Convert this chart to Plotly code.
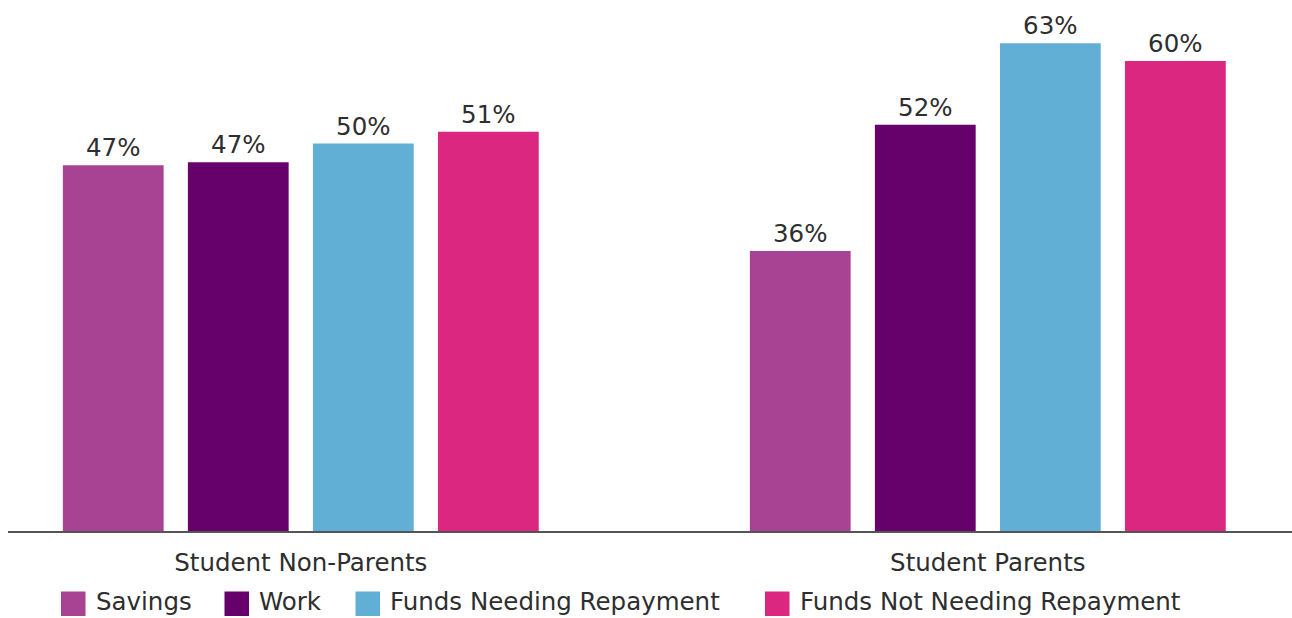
import plotly.graph_objects as go

# ---- data ----
categories = ["Student Non-Parents", "Student Parents"]
series_names = ["Savings", "Work", "Funds Needing Repayment", "Funds Not Needing Repayment"]
savings = [47.0, 36.0]
work = [47.4, 52.2]
funds_repay = [49.8, 62.7]
funds_no_repay = [51.3, 60.4]
labels_savings = ["47%", "36%"]
labels_work = ["47%", "52%"]
labels_funds_repay = ["50%", "63%"]
labels_funds_no_repay = ["51%", "60%"]

# ---- style ----
colors = ["#A84394", "#66006A", "#62AFD6", "#DB2780"]
FONT = "DejaVu Sans"
FS = 24.5
TXT = "#2e2e2e"
W, H = 1292, 618
ML, MR, MT, MB = 8, 0, 0, 87
PW, PH = W - ML - MR, H - MT - MB

series_values = [savings, work, funds_repay, funds_no_repay]
series_labels = [labels_savings, labels_work, labels_funds_repay, labels_funds_no_repay]

fig = go.Figure()
for name, vals, labs, col in zip(series_names, series_values, series_labels, colors):
    fig.add_trace(go.Bar(
        x=categories, y=vals, name=name, text=labs,
        textposition="outside", cliponaxis=False,
        textfont=dict(family=FONT, size=FS, color=TXT),
        marker=dict(color=col, line=dict(width=0)),
        showlegend=False,
    ))

def px2paper_x(px):
    return (px - ML) / PW

def px2paper_y(py):
    return (H - MB - py) / PH

# custom legend (large square swatches)
legend_x = [61, 224.5, 355.5, 765]
sq = 24.5
sq_top = 591.5
shapes = []
annotations = []
for name, col, lx in zip(series_names, colors, legend_x):
    shapes.append(dict(type="rect", xref="paper", yref="paper",
                       x0=px2paper_x(lx), x1=px2paper_x(lx + sq),
                       y0=px2paper_y(sq_top + sq), y1=px2paper_y(sq_top),
                       fillcolor=col, line=dict(width=0)))
    annotations.append(dict(xref="paper", yref="paper",
                            x=px2paper_x(lx + sq + 8), y=px2paper_y(617.5),
                            xanchor="left", yanchor="bottom", showarrow=False,
                            text=name, font=dict(family=FONT, size=FS, color=TXT)))

fig.update_layout(
    width=W, height=H,
    margin=dict(l=ML, r=MR, t=MT, b=MB, pad=0),
    paper_bgcolor="white", plot_bgcolor="white",
    barmode="group", bargap=0.272, bargroupgap=0.194,
    shapes=shapes, annotations=annotations,
    font=dict(family=FONT, color=TXT),
)
fig.update_xaxes(
    type="category", range=[-0.4262, 1.4428],
    showline=True, linecolor="#555555", linewidth=1.5,
    ticks="outside", ticklen=9, tickcolor="rgba(0,0,0,0)",
    tickfont=dict(family=FONT, size=FS, color=TXT),
    showgrid=False, zeroline=False,
)
fig.update_yaxes(range=[0, 68.25], visible=False, showgrid=False, zeroline=False)

fig.write_html("out.html")
